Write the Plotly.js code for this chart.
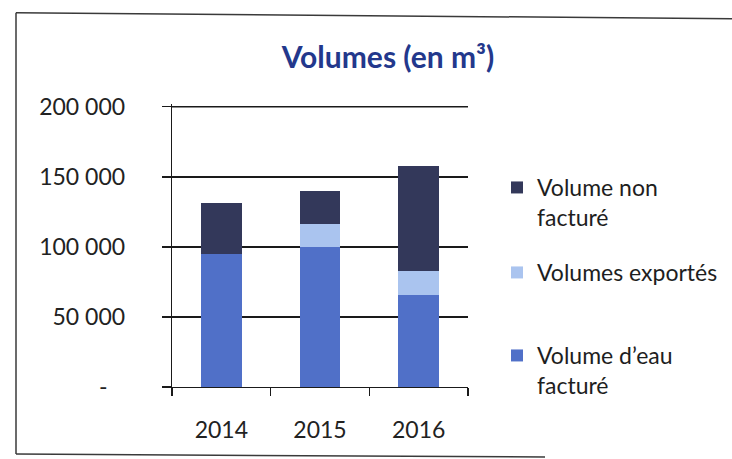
<!DOCTYPE html>
<html>
<head>
<meta charset="utf-8">
<script src="https://cdn.plot.ly/plotly-3.0.1.min.js"></script>
<style>html,body{margin:0;padding:0;background:#fff;}#chart{width:732px;height:459px;}</style>
</head>
<body>
<div id="chart"></div>
<script>
// Data
const years = ['2014', '2015', '2016'];
const volumeFacture = [95000, 100000, 65500];      // Volume d'eau facturé
const volumesExportes = [0, 16000, 17000];         // Volumes exportés
const volumeNonFacture = [36000, 24000, 75000];    // Volume non facturé
const yTickVals = [0, 50000, 100000, 150000, 200000];
const yTickText = ['-\u00A0\u00A0\u00A0', '50 000', '100 000', '150 000', '200 000'];

const FONT = 'Lato, "Open Sans", "DejaVu Sans", sans-serif';
const YMAX = 202000;
const L = 172, R = 468, B = 387, W = 732, H = 459;
const T = B - 280 * YMAX / 200000;
const pw = R - L, ph = B - T;
const px = X => (X - L) / pw;
const py = Y => (B - Y) / ph;

const traces = [
  {type: 'bar', name: "Volume d\u2019eau<br>facturé", x: years, y: volumeFacture,
   marker: {color: '#5070c8'}, legend: 'legend3', hoverinfo: 'y'},
  {type: 'bar', name: 'Volumes exportés', x: years, y: volumesExportes,
   marker: {color: '#aac4ef'}, legend: 'legend2', hoverinfo: 'y'},
  {type: 'bar', name: 'Volume non<br>facturé', x: years, y: volumeNonFacture,
   marker: {color: '#33385a'}, legend: 'legend', hoverinfo: 'y'}
];

const legFont = {family: FONT, size: 23, color: '#1e1e1e'};
const legBase = {xref: 'container', yref: 'container', xanchor: 'left', yanchor: 'top',
  font: legFont, bgcolor: 'rgba(0,0,0,0)', valign: 'top', itemwidth: 30};
const LX = 497 / W;
const GRID = '#1a1a1a';

const layout = {
  width: W, height: H,
  paper_bgcolor: '#ffffff', plot_bgcolor: '#ffffff',
  margin: {l: L, r: W - R, t: T, b: H - B, pad: 0},
  barmode: 'stack', bargap: 0.585,
  title: {text: 'Volumes (en m³)', font: {family: FONT, size: 30, color: '#23388c', weight: 'bold'},
    xref: 'container', yref: 'container', x: 388 / W, y: 1 - 57 / H, xanchor: 'center', yanchor: 'middle'},
  xaxis: {type: 'category', showline: true, linecolor: GRID, linewidth: 1.3,
    ticks: 'outside', tickson: 'boundaries', ticklen: 8, tickcolor: GRID, tickwidth: 1.3,
    ticklabelstandoff: 22, tickfont: {family: FONT, size: 23, color: '#222'},
    showgrid: false, fixedrange: true},
  yaxis: {range: [0, YMAX], tickvals: yTickVals, ticktext: yTickText,
    showline: true, linecolor: GRID, linewidth: 1.3,
    ticks: 'outside', ticklen: 9, tickcolor: GRID, tickwidth: 1.3,
    ticklabelstandoff: 32, tickfont: {family: FONT, size: 23, color: '#222'},
    showgrid: true, gridcolor: GRID, gridwidth: 1.3, zeroline: false, fixedrange: true},
  showlegend: true,
  legend: Object.assign({}, legBase, {x: LX, y: 1 - 166 / H}),
  legend2: Object.assign({}, legBase, {x: LX, y: 1 - 251 / H}),
  legend3: Object.assign({}, legBase, {x: LX, y: 1 - 334 / H}),
  shapes: [
    // top gridline at the highest tick value (drawn through the y scale)
    {type: 'line', xref: 'paper', yref: 'y', x0: 0, x1: 1,
      y0: yTickVals[yTickVals.length - 1], y1: yTickVals[yTickVals.length - 1],
      line: {color: GRID, width: 1.3}, layer: 'below'},
    // frame of the scanned chart
    {type: 'line', xref: 'paper', yref: 'paper', x0: px(16), y0: py(13), x1: px(16), y1: py(454),
      line: {color: '#3a3a3a', width: 1.5}},
    {type: 'line', xref: 'paper', yref: 'paper', x0: px(16), y0: py(13), x1: px(732), y1: py(19),
      line: {color: '#3a3a3a', width: 1.5}},
    {type: 'line', xref: 'paper', yref: 'paper', x0: px(16), y0: py(454), x1: px(545), y1: py(457),
      line: {color: '#3a3a3a', width: 1.5}}
  ]
};

Plotly.newPlot('chart', traces, layout, {displayModeBar: false, staticPlot: true});
</script>
</body>
</html>
